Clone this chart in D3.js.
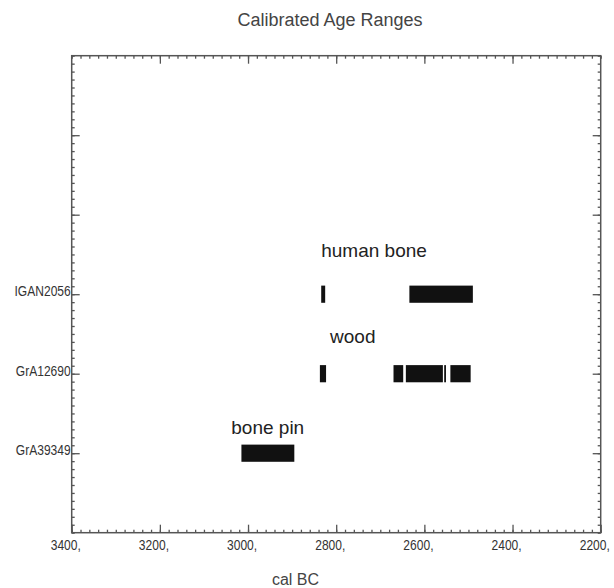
<!DOCTYPE html>
<html>
<head>
<meta charset="utf-8">
<script src="https://cdn.jsdelivr.net/npm/d3@7"></script>
<style>
  body { margin: 0; background: #fff; }
  text { font-family: "Liberation Sans", Arial, sans-serif; }
</style>
</head>
<body>
<div id="svg-area"></div>
<script>
// sample codes, bottom to top
var samples = ["GrA39349", "GrA12690", "IGAN2056"];
var materials = ["bone pin", "wood", "human bone"];

// calibrated ranges (cal BC), from -> to, one list per sample
var rangesGrA39349 = [[3015, 2895]];
var rangesGrA12690 = [[2837, 2823], [2670, 2648], [2642, 2558], [2555, 2551], [2541, 2495]];
var rangesIGAN2056 = [[2834, 2825], [2634, 2490]];
var allRanges = [rangesGrA39349, rangesGrA12690, rangesIGAN2056];

// axis ticks
var xTicks = [3400, 3200, 3000, 2800, 2600, 2400, 2200];
var yTicks = [1, 2, 3, 4, 5];

// Define SVG area dimensions
var svgWidth = 614;
var svgHeight = 588;

var chartMargin = { top: 55.7, right: 13.3, bottom: 55.3, left: 71.7 };
var chartWidth = svgWidth - chartMargin.left - chartMargin.right;
var chartHeight = svgHeight - chartMargin.top - chartMargin.bottom;

var svg = d3.select("#svg-area")
  .append("svg")
  .attr("width", svgWidth)
  .attr("height", svgHeight);

var chartGroup = svg.append("g")
  .attr("transform", `translate(${chartMargin.left}, ${chartMargin.top})`);

// x runs backwards: older years on the left
var xScale = d3.scaleLinear()
  .domain([3400, 2200])
  .range([0, chartWidth]);

var yScale = d3.scaleLinear()
  .domain([0, 6])
  .range([chartHeight, 0]);

// minor tick values
var xMinor = d3.range(3400, 2199, -20);
var yMinor = d3.range(0, 60.01, 1).map(d => d / 10);

var axisColor = "#555";

function styleAxis(g) {
  g.select(".domain").remove();
  g.selectAll("line").attr("stroke", axisColor).attr("stroke-width", 1.3);
}

// minor ticks, all four sides
chartGroup.append("g")
  .attr("transform", `translate(0, ${chartHeight})`)
  .call(d3.axisBottom(xScale).tickValues(xMinor).tickSize(-3).tickFormat(""))
  .call(styleAxis);
chartGroup.append("g")
  .call(d3.axisTop(xScale).tickValues(xMinor).tickSize(-3).tickFormat(""))
  .call(styleAxis);
chartGroup.append("g")
  .call(d3.axisLeft(yScale).tickValues(yMinor).tickSize(-3).tickFormat(""))
  .call(styleAxis);
chartGroup.append("g")
  .attr("transform", `translate(${chartWidth}, 0)`)
  .call(d3.axisRight(yScale).tickValues(yMinor).tickSize(-3).tickFormat(""))
  .call(styleAxis);

// major ticks (labels are a bit tall and narrow in the original)
var bottomAxis = chartGroup.append("g")
  .attr("transform", `translate(0, ${chartHeight})`)
  .call(d3.axisBottom(xScale).tickValues(xTicks).tickSize(-8).tickFormat(d => d + ","))
  .call(styleAxis);
bottomAxis.selectAll("text")
  .attr("x", null)
  .attr("y", null)
  .attr("dy", null)
  .attr("transform", "translate(-21.5, 17) scale(0.86, 1)")
  .attr("text-anchor", "start")
  .attr("fill", "#333")
  .style("font-size", "14px");

chartGroup.append("g")
  .call(d3.axisTop(xScale).tickValues(xTicks.slice(1, -1)).tickSize(-8).tickFormat(""))
  .call(styleAxis);

var leftAxis = chartGroup.append("g")
  .call(d3.axisLeft(yScale).tickValues(yTicks).tickSize(-8)
    .tickFormat(d => samples[d - 1] || ""))
  .call(styleAxis);
leftAxis.selectAll("text")
  .attr("x", null)
  .attr("y", null)
  .attr("dy", null)
  .attr("transform", "translate(-1, 1.5) scale(0.86, 1)")
  .attr("fill", "#333")
  .style("font-size", "14px");

chartGroup.append("g")
  .attr("transform", `translate(${chartWidth}, 0)`)
  .call(d3.axisRight(yScale).tickValues(yTicks).tickSize(-8).tickFormat(""))
  .call(styleAxis);

// frame
chartGroup.append("rect")
  .attr("width", chartWidth)
  .attr("height", chartHeight)
  .attr("fill", "none")
  .attr("stroke", axisColor)
  .attr("stroke-width", 1.5);

// range bars
var barHalf = 0.108;
allRanges.forEach(function(ranges, i) {
  var pos = i + 1;
  chartGroup.selectAll(".bar" + i)
    .data(ranges)
    .enter()
    .append("rect")
    .attr("class", "bar" + i)
    .attr("x", d => xScale(d[0]))
    .attr("y", yScale(pos + barHalf))
    .attr("width", d => xScale(d[1]) - xScale(d[0]))
    .attr("height", yScale(pos - barHalf) - yScale(pos + barHalf))
    .attr("fill", "#111");
});

// material labels: year where the text starts, height above the sample line
var labelAt = [[3038, 0.24], [2814, 0.39], [2834, 0.47]];
chartGroup.selectAll(".matLabel")
  .data(materials)
  .enter()
  .append("text")
  .attr("class", "matLabel")
  .attr("x", (d, i) => xScale(labelAt[i][0]))
  .attr("y", (d, i) => yScale(i + 1 + labelAt[i][1]))
  .attr("fill", "#222")
  .style("font-size", "19px")
  .text(d => d);

// title and axis label
svg.append("text")
  .attr("x", 330)
  .attr("y", 25.7)
  .attr("text-anchor", "middle")
  .attr("fill", "#444")
  .style("font-size", "18px")
  .text("Calibrated Age Ranges");

svg.append("text")
  .attr("x", 295.5)
  .attr("y", 585)
  .attr("text-anchor", "middle")
  .attr("fill", "#444")
  .style("font-size", "16px")
  .text("cal BC");
</script>
</body>
</html>
